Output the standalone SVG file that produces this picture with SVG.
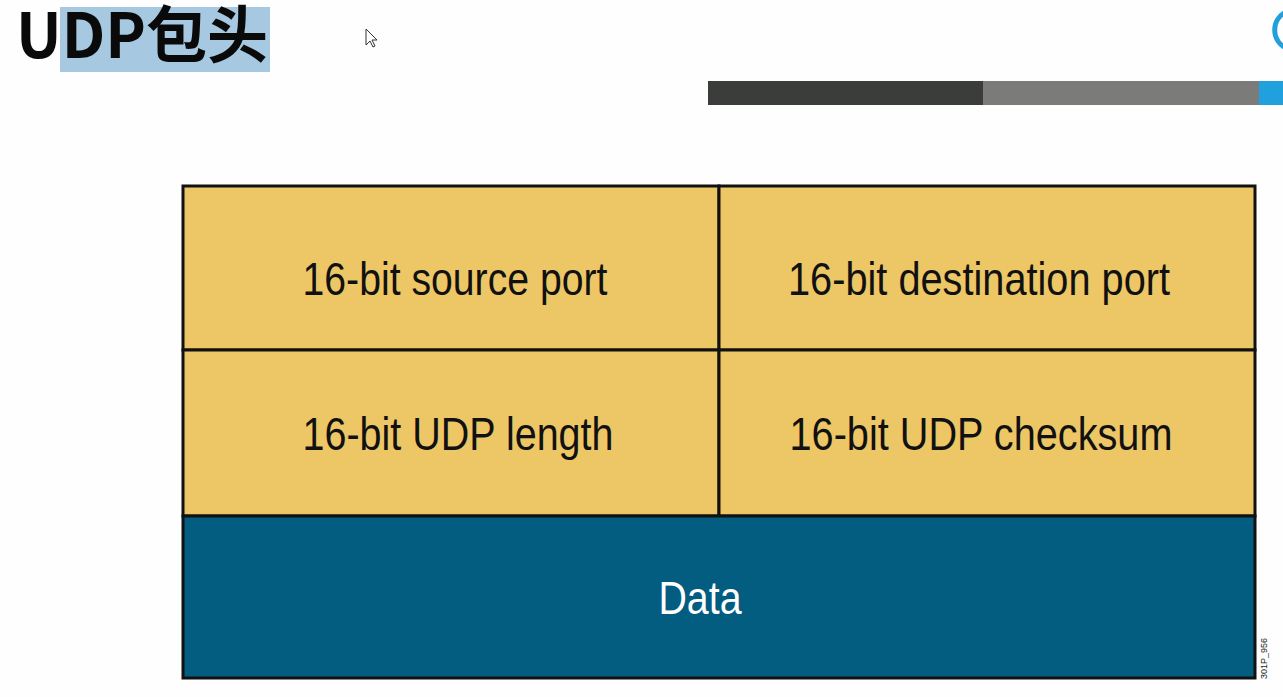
<svg xmlns="http://www.w3.org/2000/svg" width="1283" height="697" viewBox="0 0 1283 697">
<style>
.cell{fill:#edc666;stroke:#111;stroke-width:3}
.data{fill:#035d81;stroke:#111;stroke-width:3}
.lbl{font-family:"Liberation Sans",Arial,sans-serif;font-size:46px;fill:#111;text-anchor:middle}
.wlbl{fill:#fff}
</style>
<rect width="1283" height="697" fill="#fefefe"/>
<g id="highlight">
<rect x="60" y="7" width="210" height="65" fill="#a6c9e1"/>
</g>
<g id="title">
<text x="16" y="58" font-family="'Noto Sans CJK SC','Noto Sans',sans-serif" font-weight="bold" font-size="62" textLength="252" lengthAdjust="spacingAndGlyphs" fill="#0a0a0a">UDP包头</text>
</g>
<g id="cursor">
<path d="M366 29 L366 45 L370 41 L373 47 L375 46 L372 40 L377 40 Z" fill="#fff" stroke="#333" stroke-width="1"/>
</g>
<g id="bars">
<rect x="708" y="81" width="275" height="24" fill="#3b3d3b"/>
<rect x="983" y="81" width="276" height="24" fill="#7b7c7a"/>
<rect x="1259" y="81" width="24" height="24" fill="#20a0dc"/>
<path d="M1286 12 A20 20 0 0 0 1286 48" fill="none" stroke="#20a0dc" stroke-width="5"/>
</g>
<g id="src-port">
<rect class="cell" x="183" y="186" width="536" height="164"/>
<text class="lbl" x="455" y="295" textLength="305" lengthAdjust="spacingAndGlyphs">16-bit source port</text>
</g>
<g id="dst-port">
<rect class="cell" x="719" y="186" width="536" height="164"/>
<text class="lbl" x="979" y="295" textLength="382" lengthAdjust="spacingAndGlyphs">16-bit destination port</text>
</g>
<g id="udp-length">
<rect class="cell" x="183" y="350" width="536" height="166"/>
<text class="lbl" x="458" y="450" textLength="311" lengthAdjust="spacingAndGlyphs">16-bit UDP length</text>
</g>
<g id="udp-checksum">
<rect class="cell" x="719" y="350" width="536" height="166"/>
<text class="lbl" x="981" y="450" textLength="383" lengthAdjust="spacingAndGlyphs">16-bit UDP checksum</text>
</g>
<g id="data">
<rect class="data" x="183" y="516" width="1072" height="162"/>
<text class="lbl wlbl" x="700" y="614" textLength="83" lengthAdjust="spacingAndGlyphs">Data</text>
</g>
<g id="connectors"></g>
<text x="0" y="0" transform="translate(1267 679) rotate(-90)" font-family="'Liberation Sans',Arial,sans-serif" font-size="9" fill="#222">301P_956</text>
</svg>
